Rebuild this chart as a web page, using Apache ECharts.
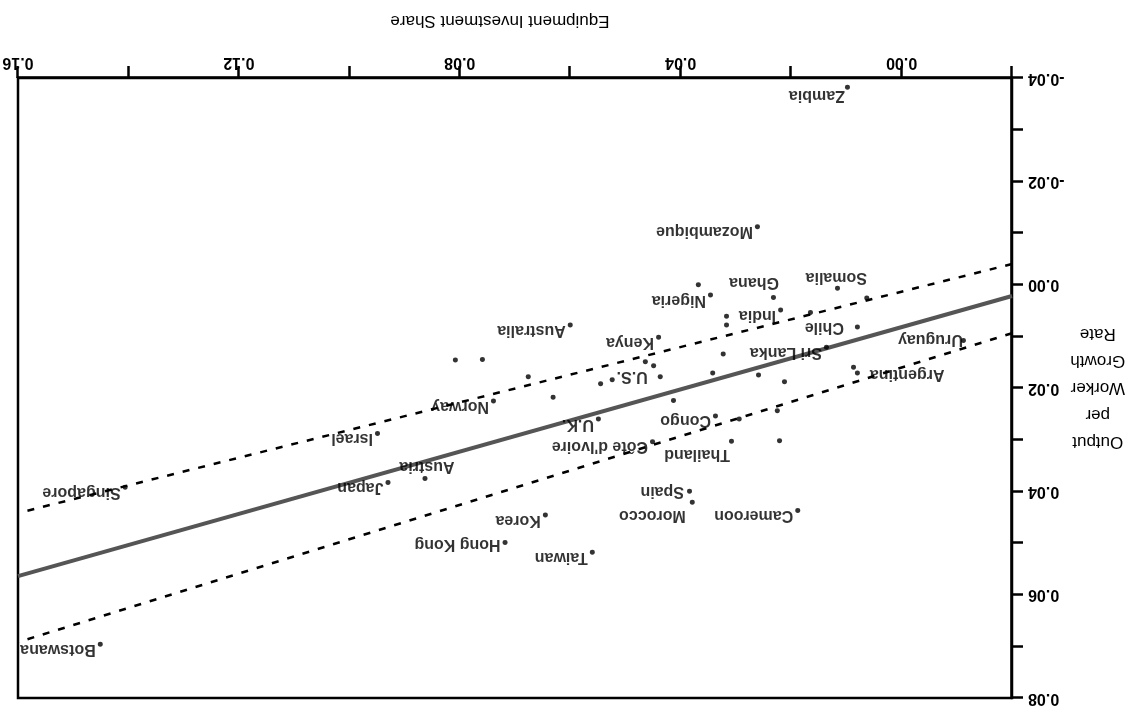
<!DOCTYPE html>
<html>
<head>
<meta charset="utf-8">
<script src="https://cdn.jsdelivr.net/npm/echarts@6/dist/echarts.min.js"></script>
<style>
html,body{margin:0;padding:0;background:#fff;overflow:hidden;}
#chart{width:1135px;height:717px;transform:rotate(180deg);transform-origin:50% 50%;}
</style>
</head>
<body>
<div id="chart"></div>
<script>
// ---- data ----
const countries = ['Zambia','Mozambique','Somalia','Ghana','Nigeria','India','Chile','Australia','Kenya','Sri Lanka','Uruguay','Argentina','U.S.','Norway','Congo','U.K.','Israel',"Côte d'Ivoire",'Thailand','Austria','Japan','Singapore','Spain','Morocco','Cameroon','Korea','Hong Kong','Taiwan','Botswana'];
const countryX = [0.0098,0.0261,0.0116,0.0232,0.0346,0.0219,0.0080,0.0600,0.0440,0.0136,-0.0112,0.0080,0.0437,0.0739,0.0337,0.0549,0.0949,0.0451,0.0308,0.0863,0.0930,0.1406,0.0384,0.0379,0.0188,0.0645,0.0718,0.0560,0.1451];
const countryY = [-0.0382,-0.0112,0.0007,0.0025,0.0020,0.0049,0.0082,0.0078,0.0102,0.0121,0.0108,0.0171,0.0178,0.0225,0.0254,0.0260,0.0288,0.0304,0.0303,0.0375,0.0383,0.0392,0.0400,0.0421,0.0437,0.0446,0.0499,0.0518,0.0696];
const otherX = [0.0063,0.0368,0.0317,0.0317,0.0165,0.0323,0.0464,0.0449,0.0808,0.0759,0.0524,0.0545,0.0676,0.0342,0.0259,0.0212,0.0631,0.0413,0.0225,0.0294,0.0221,0.0087];
const otherY = [0.0026,0.0000,0.0061,0.0078,0.0054,0.0134,0.0149,0.0157,0.0146,0.0145,0.0184,0.0192,0.0178,0.0171,0.0175,0.0188,0.0218,0.0224,0.0244,0.0260,0.0302,0.0160];
const fitX = [-0.02, 0.16];
const fitY = [0.0022, 0.0564];
const bandLowY = [-0.0040, 0.0442];
const bandHighY = [0.0094, 0.0692];
const xTickLabels = ['0.00','0.04','0.08','0.12','0.16'];
const yTickLabels = ['-0.04','-0.02','0.00','0.02','0.04','0.06','0.08'];

// ---- label placement (style only) ----
const labelPlacement = {
  'Ghana':{position:'right',offset:[-9,15]},
  'Somalia':{position:'right',offset:[-33,11]},
  'Argentina':{position:'left',offset:[-9,-1]},
  'Thailand':{position:'right',offset:[-2,-13]},
  'Morocco':{position:'right',offset:[3,-13]},
  'Austria':{position:'right',offset:[-33,12]},
  'Chile':{position:'right',offset:[10,0]},
  'U.S.':{position:'right',offset:[9,0]},
  'Spain':{position:'right',offset:[2,0]},
  'Hong Kong':{position:'right',offset:[1,-2]},
  'Zambia':{position:'right',offset:[-1,-8]},
  'Uruguay':{position:'right',offset:[-3,1]}
};

const FONT = '"Liberation Sans", Arial, Helvetica, sans-serif';
function fmt(v, list){
  const s = (Math.abs(v) < 1e-9 ? 0 : v).toFixed(2);
  return list.indexOf(s) >= 0 ? s : '';
}

const chart = echarts.init(document.getElementById('chart'), null, {renderer:'canvas'});
const pts = countries.map((n,i)=>{
  const item = {name:n, value:[countryX[i], countryY[i]]};
  if (labelPlacement[n]) item.label = labelPlacement[n];
  return item;
});
const others = otherX.map((x,i)=>[x, otherY[i]]);
const nameText = {fontFamily:FONT, fontSize:17, color:'#000'};
const tickText = {fontFamily:FONT, fontSize:16, fontWeight:'bold', color:'#000'};

chart.setOption({
  animation:false,
  backgroundColor:'#fff',
  grid:{left:123,right:18,top:19,bottom:78,show:true,borderColor:'#000',borderWidth:2.5,outerBoundsMode:'none',containLabel:false},
  xAxis:{
    type:'value', min:-0.02, max:0.16, interval:0.02,
    name:'Equipment Investment Share', nameLocation:'middle', nameGap:57,
    nameTextStyle:Object.assign({verticalAlign:'middle',align:'center',padding:[0,0,0,30]}, nameText),
    axisLine:{show:true,onZero:false,lineStyle:{color:'#000',width:2.5}},
    axisTick:{show:true,inside:false,length:12,lineStyle:{color:'#000',width:2.5}},
    axisLabel:Object.assign({margin:8,showMinLabel:true,showMaxLabel:true,formatter:v=>fmt(v,xTickLabels)}, tickText),
    splitLine:{show:false}
  },
  yAxis:{
    type:'value', min:-0.04, max:0.08, interval:0.01,
    name:'Output\nper\nWorker\nGrowth\nRate', nameLocation:'middle', nameRotate:0, nameGap:85,
    nameTextStyle:Object.assign({align:'center',verticalAlign:'middle',lineHeight:27,padding:[0,0,10,0]}, nameText),
    axisLine:{show:true,onZero:false,lineStyle:{color:'#000',width:2.5}},
    axisTick:{show:true,inside:false,length:11,lineStyle:{color:'#000',width:2.5}},
    axisLabel:Object.assign({margin:16,showMinLabel:true,showMaxLabel:true,formatter:v=>fmt(v,yTickLabels)}, tickText),
    splitLine:{show:false}
  },
  series:[
    {type:'line', name:'fit', data:fitX.map((x,i)=>[x,fitY[i]]), symbol:'none', silent:true, z:2,
     lineStyle:{color:'#555',width:4}},
    {type:'line', name:'low', data:fitX.map((x,i)=>[x,bandLowY[i]]), symbol:'none', silent:true, z:2,
     lineStyle:{color:'#000',width:2.5,type:[7,9]}},
    {type:'line', name:'high', data:fitX.map((x,i)=>[x,bandHighY[i]]), symbol:'none', silent:true, z:2,
     lineStyle:{color:'#000',width:2.5,type:[7,9]}},
    {type:'scatter', name:'others', data:others, symbolSize:5, itemStyle:{color:'#000'}, z:4},
    {type:'scatter', name:'countries', data:pts, symbolSize:5, itemStyle:{color:'#000'}, z:5,
     label:Object.assign({show:true, position:'right', distance:1, offset:[1,-5], formatter:'{b}'}, tickText)}
  ]
});
</script>
</body>
</html>
